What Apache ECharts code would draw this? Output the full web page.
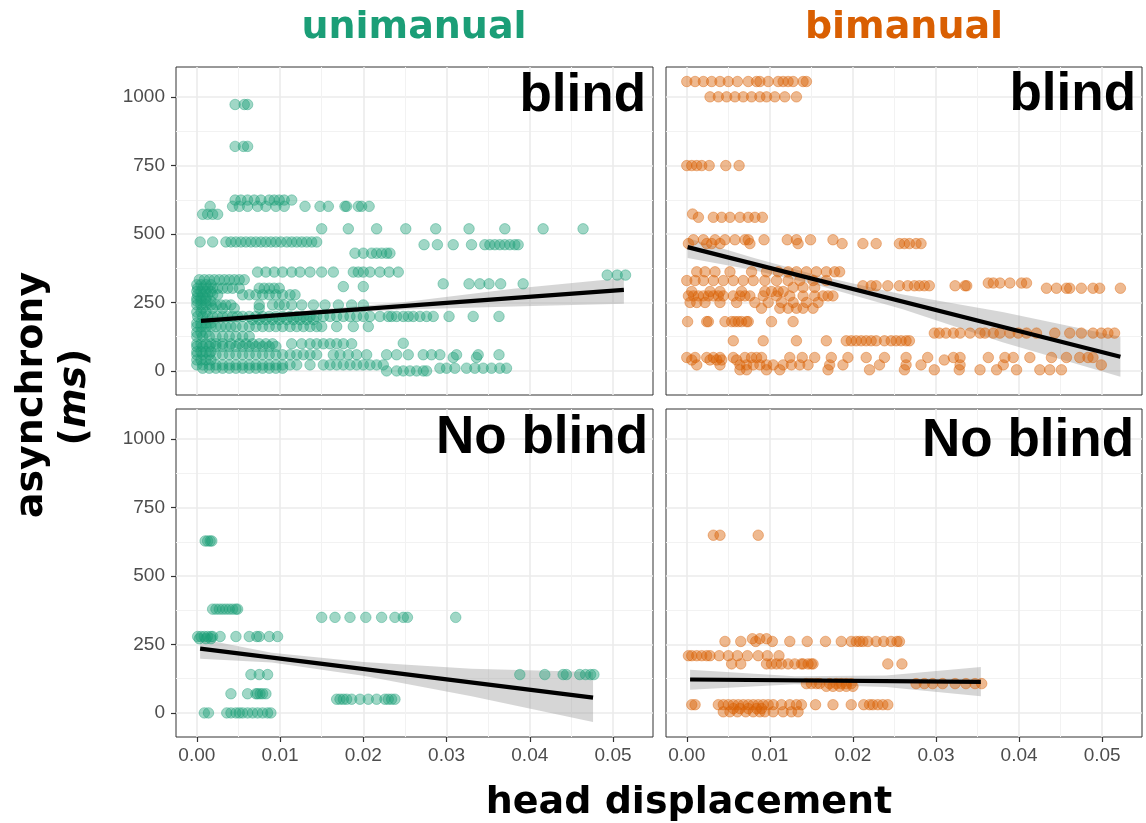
<!DOCTYPE html>
<html>
<head>
<meta charset="utf-8">
<script src="https://cdn.jsdelivr.net/npm/echarts@6/dist/echarts.min.js"></script>
<style>
  html, body { margin: 0; padding: 0; background: #fff; }
  #chart { width: 1146px; height: 823px; }
</style>
</head>
<body>
<div id="chart"></div>
<script>
// axis ticks (shared by all four facets)
const xTicks = [0, 0.01, 0.02, 0.03, 0.04, 0.05];
const xMinor = [0.005, 0.015, 0.025, 0.035, 0.045];
const yTicks = [0, 250, 500, 750, 1000];
const yMinor = [125, 375, 625, 875];

const colTitles = ['unimanual', 'bimanual'];
const rowTitles = ['blind', 'No blind'];

// points, grouped by asynchrony level: [asynchrony (ms), [head displacement, ...]]
const uniBlindRows = [
  [973, [0.0046, 0.0057, 0.0061]],
  [820, [0.0046, 0.0056, 0.0061]],
  [624, [0.0046, 0.0053, 0.0061, 0.0069, 0.0077, 0.0087, 0.0093, 0.0099, 0.0105, 0.0114]],
  [601, [0.0016, 0.0043, 0.0051, 0.0061, 0.0073, 0.0083, 0.0095, 0.0105, 0.0130, 0.0148, 0.0158, 0.0178, 0.0180, 0.0194, 0.0198, 0.0207]],
  [572, [0.0007, 0.0013, 0.0019, 0.0025]],
  [519, [0.0150, 0.0182, 0.0216, 0.0251, 0.0287, 0.0327, 0.0370, 0.0416, 0.0464]],
  [471, [0.0004, 0.0019, 0.0035, 0.0041, 0.0047, 0.0053, 0.0059, 0.0065, 0.0071, 0.0077, 0.0083, 0.0089, 0.0095, 0.0101, 0.0108, 0.0114, 0.0120, 0.0126, 0.0132, 0.0138, 0.0144]],
  [461, [0.0273, 0.0289, 0.0308, 0.0330, 0.0346, 0.0352, 0.0358, 0.0364, 0.0370, 0.0376, 0.0382, 0.0386]],
  [430, [0.0190, 0.0200, 0.0210, 0.0216, 0.0222, 0.0228, 0.0232]],
  [361, [0.0073, 0.0083, 0.0093, 0.0103, 0.0114, 0.0124, 0.0136, 0.0150, 0.0164, 0.0188, 0.0194, 0.0200, 0.0208, 0.0220, 0.0231, 0.0242]],
  [350, [0.0493, 0.0505, 0.0515]],
  [333, [0.0003, 0.0009, 0.0015, 0.0021, 0.0027, 0.0033, 0.0039, 0.0045, 0.0051, 0.0057]],
  [318, [0.0296, 0.0327, 0.0340, 0.0351, 0.0365, 0.0392]],
  [315, [0.0000, 0.0005, 0.0011, 0.0017]],
  [308, [0.0176, 0.0200]],
  [302, [0.0001, 0.0007, 0.0013, 0.0019, 0.0025, 0.0031, 0.0037, 0.0043, 0.0051, 0.0075, 0.0081, 0.0087, 0.0093, 0.0099]],
  [290, [0.0000, 0.0005, 0.0011, 0.0017]],
  [278, [0.0001, 0.0007, 0.0013, 0.0019, 0.0025, 0.0055, 0.0063, 0.0071, 0.0079, 0.0087, 0.0095, 0.0103, 0.0112, 0.0118]],
  [265, [0.0000, 0.0005, 0.0011]],
  [255, [0.0000, 0.0005, 0.0011, 0.0017]],
  [241, [0.0000, 0.0005, 0.0011, 0.0017, 0.0023, 0.0029, 0.0035, 0.0041, 0.0075, 0.0091, 0.0099, 0.0105, 0.0114, 0.0126, 0.0140, 0.0154, 0.0170, 0.0186, 0.0200]],
  [229, [0.0007, 0.0019, 0.0031, 0.0045, 0.0075]],
  [215, [0.0000, 0.0005, 0.0011]],
  [199, [0.0001, 0.0007, 0.0013, 0.0019, 0.0025, 0.0031, 0.0037, 0.0043, 0.0049, 0.0055, 0.0063, 0.0071, 0.0079, 0.0087, 0.0095, 0.0103, 0.0112, 0.0120, 0.0128, 0.0136, 0.0144, 0.0152, 0.0160, 0.0168, 0.0176, 0.0184, 0.0192, 0.0200, 0.0208, 0.0220, 0.0230, 0.0234, 0.0240, 0.0248, 0.0254, 0.0260, 0.0268, 0.0276, 0.0284, 0.0303, 0.0332, 0.0363]],
  [187, [0.0067, 0.0075, 0.0083, 0.0091, 0.0099, 0.0108, 0.0116, 0.0124, 0.0132, 0.0140]],
  [175, [0.0000, 0.0005, 0.0011, 0.0017]],
  [162, [0.0000, 0.0005, 0.0011, 0.0017, 0.0023, 0.0029, 0.0035, 0.0041, 0.0047, 0.0055, 0.0063, 0.0071, 0.0079, 0.0087, 0.0095, 0.0103, 0.0112, 0.0120, 0.0128, 0.0136, 0.0144, 0.0150, 0.0168, 0.0188, 0.0206]],
  [140, [0.0000, 0.0005, 0.0011]],
  [126, [0.0000, 0.0007, 0.0015, 0.0023, 0.0031, 0.0039, 0.0047, 0.0055, 0.0063]],
  [101, [0.0248]],
  [99, [0.0000, 0.0005, 0.0011, 0.0017, 0.0023, 0.0031, 0.0041, 0.0051, 0.0059, 0.0067, 0.0075, 0.0083, 0.0091, 0.0114, 0.0126, 0.0136, 0.0144, 0.0152, 0.0160, 0.0168, 0.0176, 0.0186]],
  [89, [0.0000, 0.0007, 0.0015, 0.0023, 0.0031, 0.0039, 0.0047, 0.0055, 0.0063, 0.0071, 0.0079, 0.0087, 0.0095]],
  [70, [0.0000, 0.0005, 0.0011, 0.0017]],
  [59, [0.0000, 0.0007, 0.0015, 0.0023, 0.0031, 0.0039, 0.0047, 0.0055, 0.0063, 0.0071, 0.0079, 0.0087, 0.0095, 0.0103, 0.0112, 0.0120, 0.0128, 0.0136, 0.0144, 0.0164, 0.0172, 0.0182, 0.0192, 0.0204, 0.0228, 0.0240, 0.0254, 0.0272, 0.0282, 0.0292, 0.0312, 0.0338, 0.0363]],
  [49, [0.0308, 0.0336]],
  [40, [0.0000, 0.0005, 0.0011, 0.0017]],
  [22, [0.0000, 0.0007, 0.0015, 0.0023, 0.0031, 0.0039, 0.0047, 0.0055, 0.0063, 0.0071, 0.0079, 0.0087, 0.0095, 0.0103, 0.0112, 0.0120, 0.0136, 0.0152, 0.0160, 0.0168, 0.0176, 0.0184, 0.0192, 0.0200, 0.0208, 0.0216, 0.0224]],
  [10, [0.0007, 0.0015, 0.0023, 0.0031, 0.0039, 0.0047, 0.0055, 0.0063, 0.0071, 0.0079, 0.0087, 0.0095, 0.0103, 0.0292, 0.0300, 0.0310, 0.0324, 0.0334, 0.0344, 0.0354, 0.0364, 0.0372]],
  [0, [0.0228, 0.0240, 0.0248, 0.0256, 0.0264, 0.0272, 0.0276]]
];

const biBlindRows = [
  [1057, [0.0000, 0.0010, 0.0020, 0.0030, 0.0040, 0.0050, 0.0061, 0.0074, 0.0084, 0.0088, 0.0098, 0.0110, 0.0116, 0.0122, 0.0128, 0.0140, 0.0144]],
  [1001, [0.0028, 0.0038, 0.0048, 0.0058, 0.0068, 0.0078, 0.0088, 0.0096, 0.0106, 0.0118, 0.0132]],
  [750, [0.0000, 0.0006, 0.0012, 0.0018, 0.0027, 0.0047, 0.0063]],
  [573, [0.0007]],
  [561, [0.0014, 0.0032, 0.0042, 0.0052, 0.0064, 0.0074, 0.0082, 0.0091]],
  [479, [0.0008, 0.0020, 0.0034, 0.0046, 0.0058, 0.0070, 0.0074, 0.0093, 0.0121, 0.0132, 0.0149, 0.0176]],
  [465, [0.0002, 0.0024, 0.0030, 0.0040, 0.0076, 0.0134, 0.0187, 0.0212, 0.0228, 0.0256, 0.0262, 0.0268, 0.0276, 0.0282]],
  [362, [0.0012, 0.0022, 0.0034, 0.0052, 0.0078, 0.0096, 0.0110, 0.0122, 0.0132, 0.0144, 0.0156, 0.0168, 0.0178, 0.0184]],
  [330, [0.0000, 0.0010, 0.0020, 0.0032, 0.0044, 0.0056, 0.0068, 0.0080, 0.0094, 0.0108, 0.0122, 0.0136, 0.0152, 0.0168]],
  [321, [0.0363, 0.0369, 0.0377, 0.0389, 0.0403, 0.0409]],
  [311, [0.0212, 0.0222, 0.0228, 0.0242, 0.0256, 0.0266, 0.0274, 0.0280, 0.0286, 0.0292, 0.0323, 0.0335, 0.0337]],
  [305, [0.0128, 0.0140, 0.0154]],
  [302, [0.0433, 0.0445, 0.0457, 0.0461, 0.0475, 0.0489, 0.0497, 0.0522]],
  [290, [0.0006, 0.0028, 0.0040, 0.0066, 0.0094, 0.0102, 0.0110, 0.0116]],
  [274, [0.0002, 0.0008, 0.0014, 0.0020, 0.0026, 0.0032, 0.0038, 0.0044, 0.0056, 0.0064, 0.0070, 0.0076, 0.0092, 0.0108, 0.0124, 0.0140, 0.0154, 0.0164, 0.0170, 0.0176]],
  [250, [0.0004, 0.0012, 0.0022, 0.0040, 0.0060, 0.0082, 0.0098, 0.0114, 0.0128, 0.0144, 0.0158]],
  [229, [0.0090, 0.0112, 0.0122, 0.0132, 0.0140, 0.0152]],
  [180, [0.0001, 0.0024, 0.0026, 0.0046, 0.0054, 0.0058, 0.0062, 0.0066, 0.0072, 0.0074, 0.0102, 0.0128]],
  [138, [0.0298, 0.0304, 0.0312, 0.0321, 0.0329, 0.0341, 0.0353, 0.0359, 0.0369, 0.0377, 0.0389, 0.0399, 0.0409, 0.0421, 0.0443, 0.0461, 0.0475, 0.0489, 0.0499, 0.0507, 0.0515]],
  [110, [0.0056, 0.0092, 0.0132, 0.0168, 0.0192, 0.0198, 0.0204, 0.0210, 0.0216, 0.0222, 0.0228, 0.0238, 0.0246, 0.0252, 0.0258, 0.0264, 0.0268]],
  [49, [0.0000, 0.0010, 0.0024, 0.0032, 0.0040, 0.0056, 0.0070, 0.0078, 0.0084, 0.0090, 0.0124, 0.0139, 0.0154, 0.0174, 0.0194, 0.0216, 0.0238, 0.0264, 0.0290, 0.0321, 0.0329, 0.0363, 0.0383, 0.0393, 0.0413, 0.0439, 0.0457, 0.0473, 0.0483, 0.0489]],
  [40, [0.0006, 0.0028, 0.0036, 0.0042, 0.0060, 0.0310]],
  [22, [0.0012, 0.0040, 0.0064, 0.0072, 0.0080, 0.0088, 0.0096, 0.0104, 0.0116, 0.0126, 0.0136, 0.0146, 0.0172, 0.0188, 0.0232, 0.0264, 0.0282, 0.0329, 0.0381, 0.0499]],
  [4, [0.0064, 0.0072, 0.0096, 0.0112, 0.0170, 0.0220, 0.0262, 0.0298, 0.0328, 0.0353, 0.0373, 0.0397, 0.0425, 0.0437, 0.0451]]
];

const uniNoBlindRows = [
  [628, [0.0010, 0.0013, 0.0016, 0.0018]],
  [379, [0.0019, 0.0023, 0.0027, 0.0031, 0.0035, 0.0039, 0.0043, 0.0047, 0.0049]],
  [349, [0.0150, 0.0166, 0.0184, 0.0203, 0.0222, 0.0238, 0.0248, 0.0253, 0.0311]],
  [279, [0.0001, 0.0005, 0.0009, 0.0013, 0.0017, 0.0019, 0.0028, 0.0047, 0.0063, 0.0072, 0.0075, 0.0087, 0.0097]],
  [271, [0.0003, 0.0011, 0.0017]],
  [140, [0.0065, 0.0075, 0.0085, 0.0388, 0.0418, 0.0440, 0.0444, 0.0460, 0.0467, 0.0473, 0.0477]],
  [70, [0.0041, 0.0061, 0.0071, 0.0073, 0.0076, 0.0079, 0.0083]],
  [50, [0.0168, 0.0172, 0.0176, 0.0180, 0.0186, 0.0196, 0.0206, 0.0216, 0.0226, 0.0230, 0.0234, 0.0238]],
  [0, [0.0009, 0.0014, 0.0036, 0.0041, 0.0047, 0.0051, 0.0055, 0.0061, 0.0067, 0.0073, 0.0079, 0.0085, 0.0089]]
];

const biNoBlindRows = [
  [649, [0.0032, 0.0040, 0.0086]],
  [271, [0.0079, 0.0088, 0.0096]],
  [261, [0.0046, 0.0065, 0.0083, 0.0103, 0.0124, 0.0145, 0.0167, 0.0186, 0.0198, 0.0204, 0.0208, 0.0212, 0.0218, 0.0228, 0.0237, 0.0246, 0.0253, 0.0256]],
  [209, [0.0002, 0.0006, 0.0012, 0.0018, 0.0024, 0.0028, 0.0039, 0.0050, 0.0061, 0.0073, 0.0086, 0.0097, 0.0111]],
  [179, [0.0054, 0.0065, 0.0096, 0.0102, 0.0108, 0.0114, 0.0122, 0.0130, 0.0138, 0.0140, 0.0146, 0.0150, 0.0152, 0.0242, 0.0259]],
  [107, [0.0144, 0.0150, 0.0156, 0.0160, 0.0172, 0.0180, 0.0186, 0.0192, 0.0198, 0.0276, 0.0286, 0.0296, 0.0308, 0.0323, 0.0336, 0.0347, 0.0355]],
  [97, [0.0168, 0.0176, 0.0184, 0.0192, 0.0200]],
  [30, [0.0006, 0.0010, 0.0038, 0.0044, 0.0050, 0.0056, 0.0062, 0.0068, 0.0074, 0.0080, 0.0086, 0.0092, 0.0098, 0.0104, 0.0114, 0.0124, 0.0132, 0.0138, 0.0155, 0.0176, 0.0198, 0.0213, 0.0220, 0.0224, 0.0230, 0.0236, 0.0242]],
  [16, [0.0056, 0.0064, 0.0074, 0.0084, 0.0090]],
  [4, [0.0044, 0.0052, 0.0061, 0.0071, 0.0080, 0.0088, 0.0094, 0.0104, 0.0116, 0.0126, 0.0134]]
];

// linear fits: [head displacement, asynchrony]
const uniBlindFit = [[0.0005, 183], [0.0513, 296]];
const biBlindFit = [[0.0001, 452], [0.0522, 52]];
const uniNoBlindFit = [[0.0004, 235], [0.0476, 56]];
const biNoBlindFit = [[0.0004, 122], [0.0354, 113]];

// confidence bands: [head displacement, lower, upper]
const uniBlindBand = [[0.0005, 168, 199], [0.006, 187, 205], [0.013, 204, 220], [0.025, 224, 252], [0.038, 235, 300], [0.0513, 245, 339]];
const biBlindBand = [[0.0001, 412, 485], [0.008, 369, 413], [0.016, 311, 347], [0.026, 225, 279], [0.038, 105, 215], [0.0522, -21, 125]];
const uniNoBlindBand = [[0.0004, 198, 271], [0.009, 184, 220], [0.02, 136, 186], [0.033, 61, 161], [0.0476, -33, 149]];
const biNoBlindBand = [[0.0004, 85, 158], [0.013, 105, 134], [0.024, 95, 137], [0.0354, 61, 168]];

const XMIN = -0.0025, XMAX = 0.0548;
const YMIN = -88, YMAX = 1110;

const panels = [
  { rows: uniBlindRows, fit: uniBlindFit, band: uniBlindBand, col: 0, row: 0 },
  { rows: biBlindRows, fit: biBlindFit, band: biBlindBand, col: 1, row: 0 },
  { rows: uniNoBlindRows, fit: uniNoBlindFit, band: uniNoBlindBand, col: 0, row: 1 },
  { rows: biNoBlindRows, fit: biNoBlindFit, band: biNoBlindBand, col: 1, row: 1 }
];

const fills = ['rgba(27,158,119,0.52)', 'rgba(217,95,2,0.55)'];
const strokes = ['rgba(27,158,119,0.5)', 'rgba(217,95,2,0.5)'];
const titleColors = ['#1b9e77', '#d95f02'];
const gridLeft = [176, 666];
const gridTop = [67, 409];

const tickFont = { color: '#4d4d4d', fontSize: 19, fontFamily: 'Liberation Sans' };

const grid = [], xAxis = [], yAxis = [], series = [];

panels.forEach((p, i) => {
  grid.push({
    left: gridLeft[p.col], top: gridTop[p.row], width: p.col ? 476 : 477, height: 328,
    show: true, borderColor: '#333', borderWidth: 1, backgroundColor: '#fff',
    containLabel: false, outerBoundsMode: 'none'
  });
  const bottomRow = p.row === 1;
  const leftCol = p.col === 0;
  xAxis.push({
    type: 'value', gridIndex: i, min: XMIN, max: XMAX, position: 'bottom',
    axisLine: { show: false, onZero: false },
    axisTick: { show: bottomRow, inside: false, customValues: xTicks, length: 5, lineStyle: { color: '#333', width: 1.2 } },
    axisLabel: Object.assign({ show: bottomRow, customValues: xTicks, margin: 9, formatter: v => v.toFixed(2) }, tickFont),
    splitLine: { show: true, lineStyle: { color: '#ebebeb', width: 1.6 } }
  });
  xAxis.push({
    type: 'value', gridIndex: i, min: XMIN, max: XMAX, position: 'top',
    axisLine: { show: false, onZero: false }, axisTick: { show: false, customValues: xMinor }, axisLabel: { show: false },
    splitLine: { show: true, lineStyle: { color: '#f2f2f2', width: 1 } }
  });
  yAxis.push({
    type: 'value', gridIndex: i, min: YMIN, max: YMAX, position: 'left',
    axisLine: { show: false, onZero: false },
    axisTick: { show: leftCol, inside: false, customValues: yTicks, length: 5, lineStyle: { color: '#333', width: 1.2 } },
    axisLabel: Object.assign({ show: leftCol, customValues: yTicks, margin: 11, formatter: v => String(v) }, tickFont),
    splitLine: { show: true, lineStyle: { color: '#ebebeb', width: 1.6 } }
  });
  yAxis.push({
    type: 'value', gridIndex: i, min: YMIN, max: YMAX, position: 'right',
    axisLine: { show: false, onZero: false }, axisTick: { show: false, customValues: yMinor }, axisLabel: { show: false },
    splitLine: { show: true, lineStyle: { color: '#f2f2f2', width: 1 } }
  });

  const pts = [];
  p.rows.forEach(([y, xs]) => xs.forEach(x => pts.push([x, y])));

  series.push({
    type: 'scatter', xAxisIndex: 2 * i, yAxisIndex: 2 * i, data: pts,
    symbolSize: 10.5, silent: true,
    itemStyle: { color: fills[p.col], borderColor: strokes[p.col], borderWidth: 1 }
  });
  const band = p.band;
  series.push({
    type: 'custom', xAxisIndex: 2 * i, yAxisIndex: 2 * i, data: band, silent: true,
    renderItem: (params, api) => {
      if (params.dataIndex !== 0) return;
      const upper = band.map(d => api.coord([d[0], d[2]]));
      const lower = band.slice().reverse().map(d => api.coord([d[0], d[1]]));
      return { type: 'polygon', shape: { points: upper.concat(lower) }, style: { fill: 'rgba(153,153,153,0.4)' } };
    }
  });
  series.push({
    type: 'line', xAxisIndex: 2 * i, yAxisIndex: 2 * i, data: p.fit, silent: true,
    symbol: 'none', lineStyle: { color: '#000', width: 4.2 }
  });
});

const titleFont = 'bold 38px "DejaVu Sans"';
const labelFont = 'bold 53px "Liberation Sans"';

const graphic = [
  { type: 'text', z: 100, x: 414, y: 28, style: { text: colTitles[0], font: titleFont, fill: titleColors[0], align: 'center', verticalAlign: 'middle' } },
  { type: 'text', z: 100, x: 904, y: 28, style: { text: colTitles[1], font: titleFont, fill: titleColors[1], align: 'center', verticalAlign: 'middle' } },
  { type: 'text', z: 100, x: 646, y: 96, style: { text: rowTitles[0], font: labelFont, fill: '#000', align: 'right', verticalAlign: 'middle' } },
  { type: 'text', z: 100, x: 1136, y: 95, style: { text: rowTitles[0], font: labelFont, fill: '#000', align: 'right', verticalAlign: 'middle' } },
  { type: 'text', z: 100, x: 648, y: 438, style: { text: rowTitles[1], font: labelFont, fill: '#000', align: 'right', verticalAlign: 'middle' } },
  { type: 'text', z: 100, x: 1134, y: 441, style: { text: rowTitles[1], font: labelFont, fill: '#000', align: 'right', verticalAlign: 'middle' } },
  { type: 'text', z: 100, x: 689, y: 803, style: { text: 'head displacement', font: titleFont, fill: '#000', align: 'center', verticalAlign: 'middle' } },
  { type: 'text', z: 100, x: 32, y: 395, rotation: Math.PI / 2, style: { text: 'asynchrony', font: titleFont, fill: '#000', align: 'center', verticalAlign: 'middle' } },
  {
    type: 'text', z: 100, x: 75, y: 397, rotation: Math.PI / 2,
    style: {
      text: '({i|ms})', font: titleFont, fill: '#000', align: 'center', verticalAlign: 'middle',
      rich: { i: { fontStyle: 'italic', fontWeight: 'bold', fontSize: 38, fontFamily: 'DejaVu Sans', fill: '#000' } }
    }
  }
];

const chart = echarts.init(document.getElementById('chart'));
chart.setOption({
  animation: false,
  backgroundColor: '#fff',
  grid, xAxis, yAxis, series, graphic
});
</script>
</body>
</html>
